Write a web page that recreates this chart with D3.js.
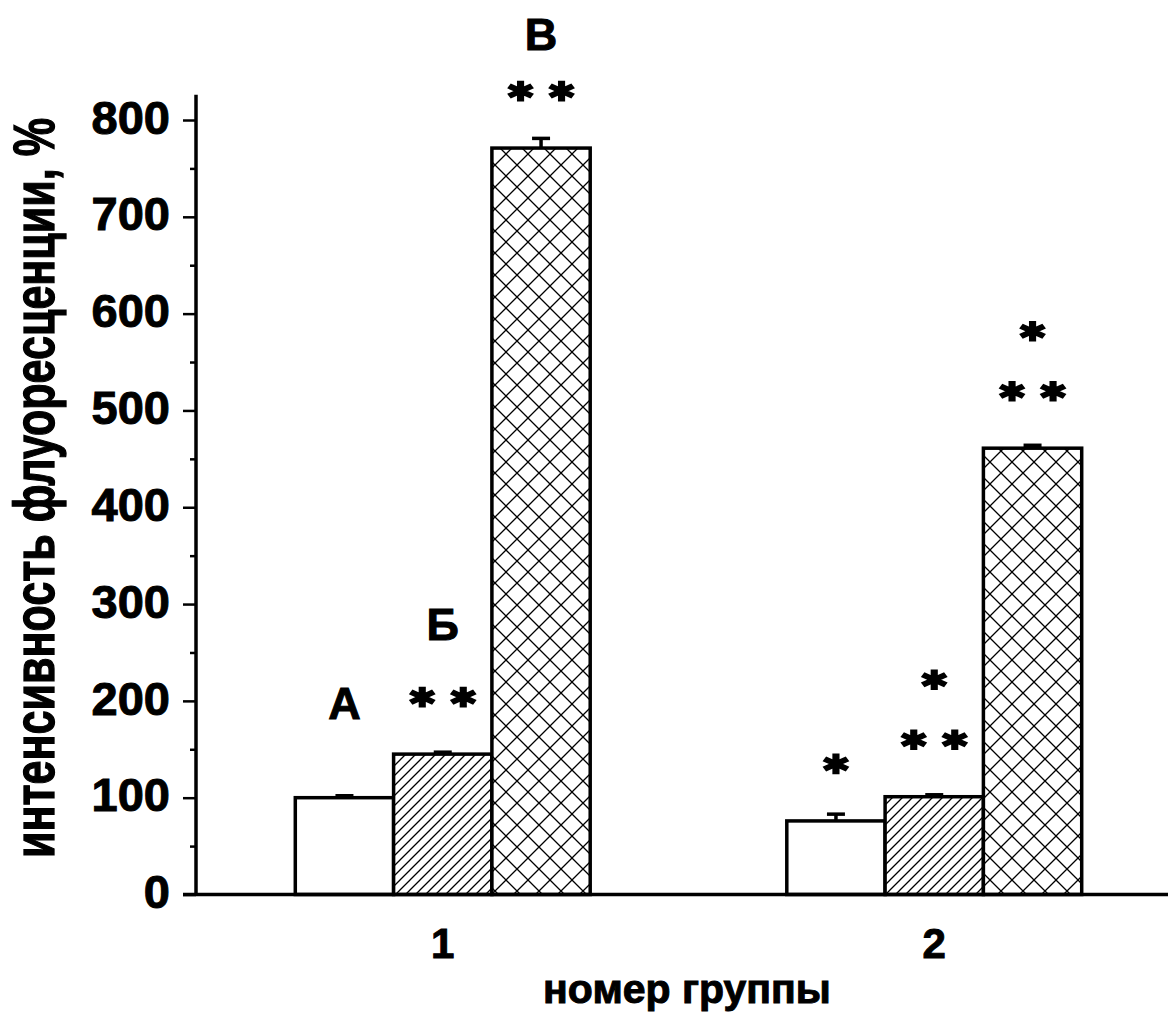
<!DOCTYPE html>
<html lang="ru">
<head>
<meta charset="UTF-8">
<title>Интенсивность флуоресценции</title>
<style>
  body { margin: 0; background: #fff; }
  svg text { font-family: "Liberation Sans", Arial, sans-serif; font-weight: bold; fill: #000;
             stroke: #000; stroke-width: 1; }
</style>
<script src="https://cdn.jsdelivr.net/npm/d3@7"></script>
</head>
<body>
<script>
// ---- данные ----
var groups = ["1", "2"];
var series = ["А", "Б", "В"];
var values1 = [100, 145, 771];
var values2 = [76, 101, 461];
var errors1 = [2, 2, 10];
var errors2 = [7, 2, 3];
// звездочки: ряды над столбиком снизу вверх, число звездочек в ряду
var stars1 = [[], [2], [2]];
var stars2 = [[1], [2, 1], [2, 1]];
var yTicks = [0, 100, 200, 300, 400, 500, 600, 700, 800];
var yMinorTicks = [50, 150, 250, 350, 450, 550, 650, 750];
var yTitle = "интенсивность флуоресценции, %";
var xTitle = "номер группы";

// ---- размеры ----
var W = 1168, H = 1015;
var letterLift = [79, 114, 98];   // подъём букв над столбиком, px

var svg = d3.select("body").append("svg")
    .attr("width", W)
    .attr("height", H);

var y = d3.scaleLinear().domain([0, 800]).range([894.5, 120]);
var x0 = d3.scaleBand().domain(groups).range([197, 1180])
    .paddingInner(0.4).paddingOuter(0.2);
var x1 = d3.scaleBand().domain(series).range([0, x0.bandwidth()]);

// штриховки
var defs = svg.append("defs");
var hatch = defs.append("pattern").attr("id", "hatch")
    .attr("patternUnits", "userSpaceOnUse").attr("width", 10).attr("height", 10);
hatch.append("rect").attr("width", 10).attr("height", 10).attr("fill", "#fff");
hatch.append("path").attr("d", "M-1,1 L1,-1 M0,10 L10,0 M9,11 L11,9")
    .attr("stroke", "#000").attr("stroke-width", 1.3);

var cross = defs.append("pattern").attr("id", "cross")
    .attr("patternUnits", "userSpaceOnUse").attr("width", 22).attr("height", 22);
cross.append("rect").attr("width", 22).attr("height", 22).attr("fill", "#fff");
cross.append("path")
    .attr("d", "M0,0 L22,22 M0,22 L22,0 M-2,2 L2,-2 M20,24 L24,20 M-2,20 L2,24 M20,-2 L24,2")
    .attr("stroke", "#000").attr("stroke-width", 1.3);

var fills = ["#fff", "url(#hatch)", "url(#cross)"];

var vals = [values1, values2], errs = [errors1, errors2], stars = [stars1, stars2];
var data = [];
groups.forEach(function(g, i) {
  series.forEach(function(s, j) {
    data.push({ g: g, s: s, j: j, v: vals[i][j], e: errs[i][j], stars: stars[i][j] });
  });
});

function cx(d) { return x0(d.g) + x1(d.s) + x1.bandwidth() / 2; }

// столбики
svg.selectAll(".bar").data(data).enter().append("rect")
    .attr("class", "bar")
    .attr("x", function(d) { return x0(d.g) + x1(d.s); })
    .attr("y", function(d) { return y(d.v); })
    .attr("width", x1.bandwidth())
    .attr("height", function(d) { return y(0) - y(d.v); })
    .attr("fill", function(d) { return fills[d.j]; })
    .attr("stroke", "#000")
    .attr("stroke-width", 3.5);

// погрешности
var eb = svg.selectAll(".err").data(data).enter().append("g").attr("class", "err")
    .attr("stroke", "#000").attr("stroke-width", 3.5);
eb.append("line")
    .attr("x1", cx).attr("x2", cx)
    .attr("y1", function(d) { return y(d.v); })
    .attr("y2", function(d) { return y(d.v + d.e); });
eb.append("line")
    .attr("x1", function(d) { return cx(d) - 9; })
    .attr("x2", function(d) { return cx(d) + 9; })
    .attr("y1", function(d) { return y(d.v + d.e); })
    .attr("y2", function(d) { return y(d.v + d.e); });

// звездочки
var star = d3.symbol(d3.symbolAsterisk, 300);
var starPts = [];
data.forEach(function(d) {
  d.stars.forEach(function(n, r) {
    var cy = y(d.v) - 57 - 60 * r;
    var xs = n === 1 ? [cx(d)] : [cx(d) - 20.5, cx(d) + 20.5];
    xs.forEach(function(x) { starPts.push([x, cy]); });
  });
});
svg.selectAll(".star").data(starPts).enter().append("path")
    .attr("class", "star")
    .attr("d", star)
    .attr("transform", function(p) { return "translate(" + p[0] + "," + p[1] + ") scale(1.3,1)"; })
    .attr("fill", "none")
    .attr("stroke", "#000")
    .attr("stroke-width", 5.5);

// буквы над первой группой
svg.selectAll(".letter").data(data.filter(function(d) { return d.g === groups[0]; }))
  .enter().append("text")
    .attr("class", "letter")
    .attr("x", cx)
    .attr("y", function(d) { return y(d.v) - letterLift[d.j]; })
    .attr("text-anchor", "middle")
    .style("font-size", "45px")
    .text(function(d) { return d.s; });

// ось Y
var yAxis = svg.append("g").attr("transform", "translate(196,0)")
    .call(d3.axisLeft(y).tickValues(yTicks).tickSize(13).tickPadding(13));
yAxis.select(".domain").remove();
yAxis.selectAll(".tick line").attr("stroke-width", 2.5);
yAxis.selectAll(".tick text").attr("dy", "0.28em")
    .style("font-size", "47px").style("font-family", "'Liberation Sans', Arial, sans-serif")
    .style("font-weight", "bold");

var yMinor = svg.append("g").attr("transform", "translate(196,0)")
    .call(d3.axisLeft(y).tickValues(yMinorTicks).tickSize(6).tickFormat(""));
yMinor.select(".domain").remove();
yMinor.selectAll(".tick line").attr("stroke-width", 2.5);

svg.append("line")
    .attr("x1", 196).attr("x2", 196)
    .attr("y1", y(0)).attr("y2", y(826))
    .attr("stroke", "#000").attr("stroke-width", 3.5);

// ось X
svg.append("line")
    .attr("x1", 183).attr("x2", W)
    .attr("y1", y(0)).attr("y2", y(0))
    .attr("stroke", "#000").attr("stroke-width", 3.5);

var xAxis = svg.append("g").attr("transform", "translate(0," + y(0) + ")")
    .call(d3.axisBottom(x0).tickSize(0).tickPadding(34));
xAxis.select(".domain").remove();
xAxis.selectAll(".tick text")
    .style("font-size", "42px").style("font-family", "'Liberation Sans', Arial, sans-serif")
    .style("font-weight", "bold");

// подписи осей
svg.append("text")
    .attr("x", 687).attr("y", 1003)
    .attr("text-anchor", "middle")
    .style("font-size", "41px")
    .text(xTitle);

var yt = svg.append("text")
    .attr("text-anchor", "middle")
    .style("font-size", "44px")
    .text(yTitle);
var len = yt.node().getComputedTextLength();
yt.attr("transform", "translate(54,488) rotate(-90) scale(" + (740 / len) + "," + (30 / (0.519 * 44)) + ")");
</script>
</body>
</html>
